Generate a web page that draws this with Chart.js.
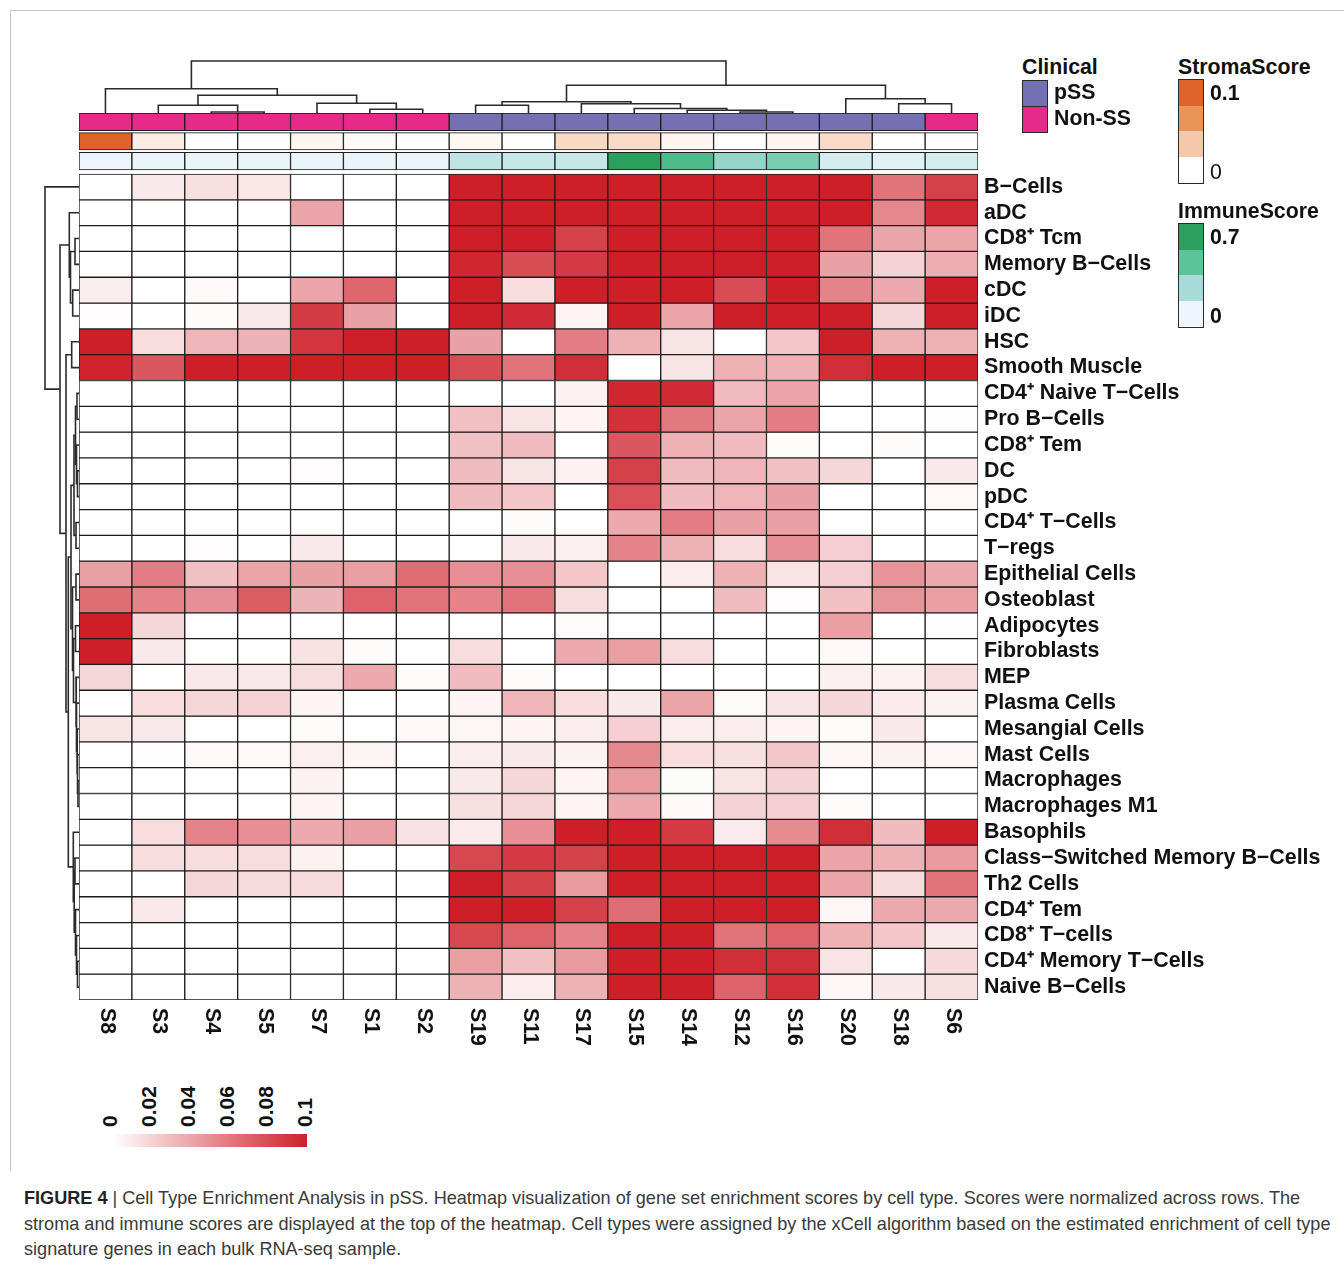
<!DOCTYPE html>
<html>
<head>
<meta charset="utf-8">
<title>Cell Type Enrichment Analysis in pSS</title>
<script src="https://cdn.jsdelivr.net/npm/chart.js@4.4.1/dist/chart.umd.min.js"></script>
<style>
  html, body { margin: 0; padding: 0; background: #fff; }
  #page { position: relative; width: 1344px; height: 1265px; overflow: hidden;
          font-family: "Liberation Sans", Arial, Helvetica, sans-serif; color: #111; }
  canvas { position: absolute; }
  .abs { position: absolute; white-space: nowrap; line-height: 1; font-size: 21.3px; font-weight: bold; }
  .reg { font-weight: normal; }
  #frame { position: absolute; left: 10px; top: 10px; width: 1334px; height: 1160px;
           border-top: 1px solid #c8c8c8; border-left: 1px solid #c8c8c8; }
  .box { position: absolute; box-sizing: border-box; border: 1.5px solid #2a2a2a; }
  .keylab { position: absolute; white-space: nowrap; line-height: 1; font-size: 21px; font-weight: bold;
            transform-origin: 0 0; transform: rotate(-90deg) translateY(-50%); }
  #caption { position: absolute; left: 24px; top: 1186px; font-size: 18.1px; line-height: 25.5px;
             color: #3a3a3a; white-space: nowrap; }
  #caption b { color: #222; }
</style>
</head>
<body>
<div id="page">
  <div id="frame"></div>
  <canvas id="colTree" width="899" height="57" style="left:79px;top:56px"></canvas>
  <canvas id="rowTree" width="39" height="826" style="left:40px;top:174px"></canvas>
  <canvas id="heat" width="1265" height="990" style="left:79px;top:80px"></canvas>
  <div id="legends"></div>
  <div id="key"></div>
  <div id="caption"><b>FIGURE 4</b> | Cell Type Enrichment Analysis in pSS. Heatmap visualization of gene set enrichment scores by cell type. Scores were normalized across rows. The<br>stroma and immune scores are displayed at the top of the heatmap. Cell types were assigned by the xCell algorithm based on the estimated enrichment of cell type<br>signature genes in each bulk RNA-seq sample.</div>
</div>
<script>
// ---------- data ----------
const samples = ['S8','S3','S4','S5','S7','S1','S2','S19','S11','S17','S15','S14','S12','S16','S20','S18','S6'];

const clinical = ['Non-SS','Non-SS','Non-SS','Non-SS','Non-SS','Non-SS','Non-SS',
                  'pSS','pSS','pSS','pSS','pSS','pSS','pSS','pSS','pSS','Non-SS'];

const stromaScore = [0.1, 0.012, 0, 0, 0.006, 0.003, 0, 0.005, 0, 0.023, 0.022, 0.006, 0, 0.006, 0.022, 0, 0];

const immuneScore = [0.008, 0.012, 0.012, 0.012, 0.012, 0.010, 0.010, 0.16, 0.135, 0.135, 0.7, 0.53, 0.30, 0.38, 0.09, 0.045, 0.09];

const cellTypes = [
  'B−Cells', 'aDC', 'CD8⁺ Tcm', 'Memory B−Cells', 'cDC', 'iDC', 'HSC', 'Smooth Muscle',
  'CD4⁺ Naive T−Cells', 'Pro B−Cells', 'CD8⁺ Tem', 'DC', 'pDC', 'CD4⁺ T−Cells', 'T−regs',
  'Epithelial Cells', 'Osteoblast', 'Adipocytes', 'Fibroblasts', 'MEP', 'Plasma Cells',
  'Mesangial Cells', 'Mast Cells', 'Macrophages', 'Macrophages M1', 'Basophils',
  'Class−Switched Memory B−Cells', 'Th2 Cells', 'CD4⁺ Tem', 'CD8⁺ T−cells',
  'CD4⁺ Memory T−Cells', 'Naive B−Cells'
];

// enrichment score per cell type (rows) and sample (columns, in `samples` order)
const enrichment = [
  [0, 0.010, 0.014, 0.011, 0, 0, 0, 0.1, 0.1, 0.1, 0.1, 0.1, 0.1, 0.1, 0.1, 0.062, 0.085],
  [0, 0, 0, 0, 0.040, 0, 0, 0.1, 0.1, 0.1, 0.1, 0.1, 0.1, 0.1, 0.1, 0.053, 0.095],
  [0, 0, 0, 0, 0, 0, 0, 0.1, 0.1, 0.085, 0.1, 0.1, 0.1, 0.1, 0.062, 0.040, 0.040],
  [0, 0, 0, 0, 0, 0, 0, 0.097, 0.080, 0.088, 0.1, 0.1, 0.1, 0.1, 0.042, 0.020, 0.036],
  [0.008, 0, 0.003, 0, 0.040, 0.068, 0, 0.1, 0.015, 0.1, 0.1, 0.1, 0.080, 0.1, 0.055, 0.038, 0.1],
  [0.001, 0, 0.002, 0.010, 0.087, 0.042, 0, 0.1, 0.095, 0.005, 0.1, 0.040, 0.1, 0.1, 0.1, 0.018, 0.1],
  [0.1, 0.015, 0.033, 0.034, 0.090, 0.1, 0.1, 0.042, 0, 0.058, 0.035, 0.012, 0, 0.025, 0.1, 0.035, 0.035],
  [0.098, 0.075, 0.1, 0.1, 0.1, 0.1, 0.1, 0.080, 0.062, 0.093, 0, 0.012, 0.035, 0.035, 0.093, 0.1, 0.1],
  [0, 0, 0, 0, 0, 0, 0, 0, 0, 0.006, 0.097, 0.095, 0.030, 0.040, 0, 0, 0],
  [0, 0, 0, 0, 0, 0, 0, 0.028, 0.012, 0.005, 0.092, 0.060, 0.040, 0.058, 0, 0, 0.001],
  [0, 0, 0, 0, 0, 0, 0, 0.028, 0.030, 0, 0.075, 0.035, 0.030, 0.002, 0, 0.002, 0],
  [0, 0, 0, 0, 0.001, 0, 0, 0.030, 0.012, 0.006, 0.085, 0.030, 0.033, 0.028, 0.018, 0, 0.010],
  [0, 0, 0, 0, 0, 0, 0, 0.030, 0.025, 0, 0.078, 0.030, 0.033, 0.042, 0, 0, 0.003],
  [0, 0, 0, 0, 0, 0, 0, 0, 0.002, 0, 0.038, 0.058, 0.042, 0.042, 0, 0, 0],
  [0, 0, 0.001, 0, 0.010, 0, 0, 0, 0.010, 0.007, 0.055, 0.035, 0.015, 0.050, 0.022, 0, 0],
  [0.042, 0.058, 0.028, 0.040, 0.042, 0.043, 0.065, 0.050, 0.050, 0.025, 0, 0.008, 0.035, 0.012, 0.022, 0.048, 0.038],
  [0.065, 0.055, 0.050, 0.072, 0.034, 0.070, 0.062, 0.055, 0.062, 0.015, 0, 0, 0.030, 0.001, 0.028, 0.048, 0.043],
  [0.1, 0.018, 0, 0, 0, 0, 0, 0, 0, 0.002, 0, 0, 0, 0, 0.043, 0, 0.001],
  [0.1, 0.010, 0, 0, 0.013, 0.002, 0, 0.015, 0, 0.038, 0.043, 0.015, 0, 0, 0.003, 0, 0],
  [0.018, 0, 0.010, 0.010, 0.015, 0.038, 0.002, 0.030, 0.002, 0, 0, 0, 0, 0, 0.007, 0.006, 0.015],
  [0, 0.015, 0.018, 0.020, 0.005, 0, 0, 0.005, 0.033, 0.015, 0.010, 0.040, 0.002, 0.012, 0.018, 0.009, 0.006],
  [0.012, 0.010, 0, 0, 0.002, 0, 0.003, 0.004, 0.005, 0.008, 0.022, 0.008, 0.008, 0.005, 0.002, 0.010, 0],
  [0, 0.001, 0.003, 0.003, 0.007, 0.005, 0, 0.008, 0.010, 0.006, 0.053, 0.015, 0.014, 0.025, 0.004, 0.006, 0.004],
  [0, 0, 0, 0, 0.006, 0, 0, 0.010, 0.018, 0.005, 0.045, 0.002, 0.012, 0.020, 0, 0, 0],
  [0, 0, 0, 0, 0.005, 0, 0, 0.014, 0.018, 0.005, 0.038, 0.003, 0.020, 0.022, 0.002, 0, 0],
  [0, 0.015, 0.055, 0.050, 0.038, 0.042, 0.013, 0.009, 0.050, 0.1, 0.1, 0.088, 0.009, 0.052, 0.093, 0.030, 0.1],
  [0, 0.015, 0.015, 0.015, 0.006, 0, 0, 0.082, 0.088, 0.085, 0.1, 0.1, 0.1, 0.1, 0.040, 0.035, 0.045],
  [0, 0, 0.018, 0.016, 0.016, 0, 0, 0.1, 0.085, 0.045, 0.1, 0.1, 0.1, 0.1, 0.040, 0.016, 0.062],
  [0, 0.010, 0, 0, 0, 0, 0, 0.1, 0.1, 0.085, 0.065, 0.1, 0.1, 0.1, 0.004, 0.038, 0.038],
  [0, 0, 0, 0, 0, 0, 0, 0.082, 0.070, 0.055, 0.1, 0.1, 0.062, 0.070, 0.035, 0.025, 0.010],
  [0, 0, 0, 0, 0, 0, 0, 0.043, 0.028, 0.045, 0.1, 0.1, 0.093, 0.093, 0.012, 0, 0.017],
  [0, 0, 0, 0, 0, 0, 0, 0.035, 0.008, 0.035, 0.1, 0.1, 0.070, 0.093, 0.004, 0.010, 0.014]
];

const keyTicks = [0, 0.02, 0.04, 0.06, 0.08, 0.1];

// hierarchical clustering: [child, child, height]; a number refers to an earlier merge
const colMerges = [
  ['S4', 'S5', 1],      // 0
  ['S3', 0, 7.7],       // 1
  ['S1', 'S2', 3.7],    // 2
  ['S7', 2, 9.7],       // 3
  [1, 3, 17.7],         // 4
  ['S8', 4, 24.3],      // 5
  ['S12', 'S16', 1],    // 6
  ['S14', 6, 2.7],      // 7
  ['S15', 7, 4.5],      // 8
  ['S17', 8, 9.3],      // 9
  ['S19', 'S11', 7.7],  // 10
  [10, 9, 11.3],        // 11
  ['S18', 'S6', 9.3],   // 12
  ['S20', 12, 14.3],    // 13
  [11, 13, 27.7],       // 14
  [5, 14, 52]           // 15
];

const rowMerges = [
  ['CD8⁺ Tcm', 'Memory B−Cells', 4],                 // 0
  ['cDC', 'iDC', 6.3],                                 // 1
  [0, 1, 8.5],                                         // 2
  ['aDC', 2, 9.7],                                     // 3
  ['HSC', 'Smooth Muscle', 7.3],                       // 4
  ['CD4⁺ Naive T−Cells', 'Pro B−Cells', 2],            // 5
  ['DC', 'pDC', 1.5],                                  // 6
  ['CD8⁺ Tem', 6, 2.5],                                // 7
  [5, 7, 3.5],                                         // 8
  ['CD4⁺ T−Cells', 'T−regs', 3],                       // 9
  [8, 9, 5],                                           // 10
  ['Epithelial Cells', 'Osteoblast', 3],               // 11
  ['Adipocytes', 'Fibroblasts', 3.5],                  // 12
  ['Macrophages', 'Macrophages M1', 1],                // 13
  ['Mast Cells', 13, 1.5],                             // 14
  ['Mesangial Cells', 14, 2],                          // 15
  ['Plasma Cells', 15, 2.5],                           // 16
  ['MEP', 16, 3],                                      // 17
  [12, 17, 5.5],                                       // 18
  [11, 18, 6.5],                                       // 19
  [10, 19, 8],                                         // 20
  ['Class−Switched Memory B−Cells', 'Th2 Cells', 4],   // 21
  ['CD4⁺ Memory T−Cells', 'Naive B−Cells', 1.5],       // 22
  ['CD8⁺ T−cells', 22, 2.5],                           // 23
  ['CD4⁺ Tem', 23, 3.5],                               // 24
  [21, 24, 4.8],                                       // 25
  ['Basophils', 25, 5.7],                              // 26
  [20, 26, 10.7],                                      // 27
  [4, 27, 13],                                         // 28
  [3, 28, 19],                                         // 29
  ['B−Cells', 29, 34]                                  // 30
];

// ---------- styling / layout ----------
const FONT = '"Liberation Sans", Arial, Helvetica, sans-serif';
Chart.defaults.font.family = FONT;

const CLINICAL_COLORS = { 'pSS': '#7570B3', 'Non-SS': '#E7298A' };
const HEAT_STOPS = [[0, '#FFFFFF'], [0.1, '#CE1F29']];
const STROMA_STOPS = [[0, '#FFFFFF'], [0.033, '#F5C8A9'], [0.067, '#E89457'], [0.1, '#DC6428']];
const IMMUNE_STOPS = [[0, '#EEF6FB'], [0.233, '#A8DCD8'], [0.467, '#5DC49A'], [0.7, '#2BA05E']];
const LINE = '#1c1c1c';

const HEAT_CANVAS_TOP = 80;                        // page y of the heatmap canvas
const HEAT_TOP = 174, HEAT_BOTTOM = 1000;         // page pixels of the cell grid
const ROW_PX = (HEAT_BOTTOM - HEAT_TOP) / cellTypes.length;
const toRow = y => (y - HEAT_TOP) / ROW_PX;
const BANDS = {                                    // annotation strips, page pixels
  clinical: [113, 130.7],
  stroma: [132.7, 150],
  immune: [152.3, 170]
};

function hex(c) { return [1, 3, 5].map(i => parseInt(c.slice(i, i + 2), 16)); }
function ramp(stops, v) {
  if (v <= stops[0][0]) return stops[0][1];
  for (let i = 1; i < stops.length; i++) {
    if (v <= stops[i][0]) {
      const [v0, c0] = stops[i - 1], [v1, c1] = stops[i];
      const t = (v - v0) / (v1 - v0), a = hex(c0), b = hex(c1);
      return 'rgb(' + a.map((x, k) => Math.round(x + (b[k] - x) * t)).join(',') + ')';
    }
  }
  return stops[stops.length - 1][1];
}

// ---------- heatmap ----------
const datasets = [];
const band = (name, colors) => {
  const [a, b] = BANDS[name];
  datasets.push({ label: name, data: samples.map(() => [toRow(a), toRow(b)]), backgroundColor: colors });
};
band('clinical', clinical.map(c => CLINICAL_COLORS[c]));
band('stroma', stromaScore.map(v => ramp(STROMA_STOPS, v)));
band('immune', immuneScore.map(v => ramp(IMMUNE_STOPS, v)));
cellTypes.forEach((name, r) => {
  datasets.push({
    label: name,
    data: enrichment[r].map(() => [r, r + 1]),
    backgroundColor: enrichment[r].map(v => ramp(HEAT_STOPS, v))
  });
});

const sampleLabels = {
  id: 'sampleLabels',
  afterDraw(chart) {
    const { ctx, scales: { x }, chartArea } = chart;
    ctx.save();
    ctx.font = 'bold 21.3px ' + FONT;
    ctx.fillStyle = '#111';
    ctx.textAlign = 'left';
    ctx.textBaseline = 'middle';
    samples.forEach((s, i) => {
      ctx.save();
      ctx.translate(x.getPixelForValue(i) + 1, chartArea.bottom + 8);
      ctx.rotate(Math.PI / 2);
      ctx.fillText(s, 0, 0);
      ctx.restore();
    });
    ctx.restore();
  }
};

new Chart(document.getElementById('heat'), {
  type: 'bar',
  data: { labels: samples, datasets },
  options: {
    responsive: false,
    animation: false,
    layout: { padding: { top: BANDS.clinical[0] - HEAT_CANVAS_TOP, left: 0, right: 0, bottom: 0 } },
    plugins: { legend: { display: false }, tooltip: { enabled: false } },
    datasets: {
      bar: { grouped: false, barPercentage: 1, categoryPercentage: 1,
             borderWidth: 1, borderColor: LINE, borderSkipped: false }
    },
    scales: {
      x: {
        type: 'category',
        grid: { display: false, drawTicks: false },
        border: { display: false },
        ticks: { display: false },
        afterFit(s) { s.height = 1070 - HEAT_BOTTOM; }
      },
      y: {
        type: 'linear',
        position: 'right',
        reverse: true,
        min: toRow(BANDS.clinical[0]),
        max: cellTypes.length,
        grid: { display: false, drawTicks: false },
        border: { display: false },
        afterBuildTicks(s) { s.ticks = cellTypes.map((_, i) => ({ value: i + 0.5 })); },
        ticks: {
          autoSkip: false,
          padding: 6,
          color: '#111',
          font: { family: FONT, size: 21.4, weight: 'bold' },
          callback: (v, i) => cellTypes[i]
        },
        afterFit(s) { s.width = 1344 - 978; }
      }
    }
  },
  plugins: [sampleLabels]
});

// ---------- dendrograms ----------
function treeSegments(merges, leafPos) {
  const nodes = [];
  const place = ref => (typeof ref === 'number' ? nodes[ref] : { pos: leafPos(ref), h: 0 });
  return merges.map(([a, b, h]) => {
    const A = place(a), B = place(b);
    nodes.push({ pos: (A.pos + B.pos) / 2, h });
    return [A, B, h];
  });
}
const treeStyle = { showLine: true, pointRadius: 0, borderColor: '#2b2b2b', borderWidth: 1.6, clip: false, tension: 0 };
const treeOptions = (x, y) => ({
  responsive: false, animation: false,
  layout: { padding: 0 },
  plugins: { legend: { display: false }, tooltip: { enabled: false } },
  scales: { x: Object.assign({ type: 'linear', display: false }, x), y: Object.assign({ type: 'linear', display: false }, y) }
});

new Chart(document.getElementById('colTree'), {
  type: 'scatter',
  data: {
    datasets: treeSegments(colMerges, n => samples.indexOf(n)).map(([A, B, h]) => Object.assign({
      data: [{ x: A.pos, y: A.h }, { x: A.pos, y: h }, { x: B.pos, y: h }, { x: B.pos, y: B.h }]
    }, treeStyle))
  },
  options: treeOptions({ min: -0.5, max: samples.length - 0.5 }, { min: 0, max: 57 })
});

new Chart(document.getElementById('rowTree'), {
  type: 'scatter',
  data: {
    datasets: treeSegments(rowMerges, n => cellTypes.indexOf(n) + 0.5).map(([A, B, h]) => Object.assign({
      data: [{ x: A.h, y: A.pos }, { x: h, y: A.pos }, { x: h, y: B.pos }, { x: B.h, y: B.pos }]
    }, treeStyle))
  },
  options: treeOptions({ min: 0, max: 39, reverse: true }, { min: 0, max: cellTypes.length, reverse: true })
});

// ---------- legends ----------
const legends = document.getElementById('legends');
const add = (html) => legends.insertAdjacentHTML('beforeend', html);

add('<div class="abs" style="left:1022px;top:57px">Clinical</div>');
['pSS', 'Non-SS'].forEach((g, i) => {
  const top = 80 + i * 26;
  add(`<div class="box" style="left:1022px;top:${top}px;width:26px;height:27px;background:${CLINICAL_COLORS[g]}"></div>`);
  add(`<div class="abs" style="left:1054px;top:${top + 2}px">${g}</div>`);
});

function stepBar(title, stops, top, labels) {
  add(`<div class="abs" style="left:1178px;top:${top - 22}px">${title}</div>`);
  const cols = stops.map(s => s[1]).reverse();
  const inner = cols.map(c => `<div style="height:25.5px;background:${c}"></div>`).join('');
  add(`<div class="box" style="left:1178px;top:${top}px;width:26px;height:105px;overflow:hidden">${inner}</div>`);
  labels.forEach(([txt, y, bold]) => add(`<div class="abs${bold ? '' : ' reg'}" style="left:1210px;top:${y}px">${txt}</div>`));
}
stepBar('StromaScore', STROMA_STOPS, 79, [['0.1', 83, true], ['0', 162, false]]);
stepBar('ImmuneScore', IMMUNE_STOPS, 223, [['0.7', 227, true], ['0', 306, true]]);

// colour key for the enrichment scale
const key = document.getElementById('key');
key.insertAdjacentHTML('beforeend',
  `<div style="position:absolute;left:113px;top:1134px;width:194px;height:13px;background:linear-gradient(to right, ${HEAT_STOPS[0][1]}, ${HEAT_STOPS[1][1]})"></div>`);
keyTicks.forEach(v => {
  const x = 108.5 + v * 1950;
  key.insertAdjacentHTML('beforeend', `<div class="keylab" style="left:${x}px;top:1127px">${v}</div>`);
});
</script>
</body>
</html>
